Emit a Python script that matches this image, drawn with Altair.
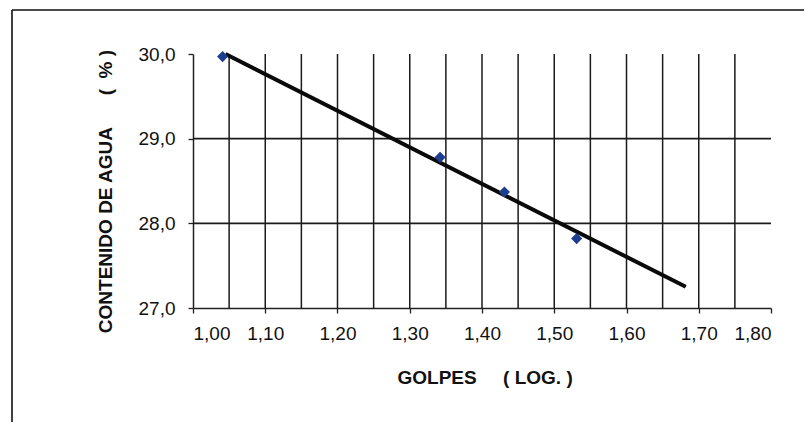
import altair as alt
import pandas as pd

# Data
golpes_log = [1.041, 1.342, 1.431, 1.531]
contenido = [29.97, 28.78, 28.37, 27.82]

trend_x = [1.045, 1.682]
trend_y = [30.0, 27.25]

x_ticks = [1.0, 1.1, 1.2, 1.3, 1.4, 1.5, 1.6, 1.7, 1.8]
y_ticks = [27.0, 28.0, 29.0, 30.0]
grid_x = [1.05, 1.10, 1.15, 1.20, 1.25, 1.30, 1.35, 1.40, 1.45, 1.50, 1.55, 1.60, 1.65, 1.70, 1.75]
grid_y = [28.0, 29.0]

FONT = "Liberation Sans"
NB = "\u00a0"

x_title = "GOLPES" + NB * 5 + "(" + NB + "LOG." + NB + ")"
y_title = "CONTENIDO DE AGUA" + NB * 6 + "(" + NB + NB + "%" + NB + ")"

pts = pd.DataFrame({"x": golpes_log, "y": contenido})
trend = pd.DataFrame({"x": trend_x, "y": trend_y})
gx = pd.DataFrame({"x": grid_x, "y": [30.0] * len(grid_x), "y2": [27.0] * len(grid_x)})
gy = pd.DataFrame({"y": grid_y, "x": [1.0] * len(grid_y), "x2": [1.8] * len(grid_y)})
one = pd.DataFrame({"a": [0]})

xscale = alt.Scale(domain=[1.0, 1.8], nice=False, zero=False)
yscale = alt.Scale(domain=[27.0, 30.0], nice=False, zero=False)

xaxis = alt.Axis(
    values=x_ticks,
    labelExpr="replace(format(datum.value, '.2f'), '.', ',')",
    title=x_title,
    titleFont=FONT, titleFontSize=19, titleFontWeight="bold", titleColor="#111",
    titleAlign="left", titleX=204, titleY=75, titleBaseline="alphabetic",
    labelFont=FONT, labelFontSize=19, labelColor="#111", labelPadding=11,
    tickSize=5, tickColor="#222", tickWidth=1.3,
    domainColor="#222", domainWidth=1.5, grid=False,
)
yaxis = alt.Axis(
    values=y_ticks,
    labelExpr="replace(format(datum.value, '.1f'), '.', ',')",
    title=y_title,
    titleFont=FONT, titleFontSize=19, titleFontWeight="bold", titleColor="#111",
    titleAngle=270, titleAlign="center", titleBaseline="alphabetic",
    titleX=-82, titleY=137,
    labelFont=FONT, labelFontSize=19, labelColor="#111", labelPadding=13,
    tickSize=5, tickColor="#222", tickWidth=1.3,
    domainColor="#222", domainWidth=1.5, grid=False,
)

vgrid = alt.Chart(gx).mark_rule(color="#1a1a1a", strokeWidth=1.5).encode(
    x=alt.X("x:Q", scale=xscale, axis=xaxis),
    y=alt.Y("y:Q", scale=yscale, axis=yaxis),
    y2="y2:Q",
)
hgrid = alt.Chart(gy).mark_rule(color="#1a1a1a", strokeWidth=1.7).encode(
    x=alt.X("x:Q", scale=xscale),
    x2="x2:Q",
    y=alt.Y("y:Q", scale=yscale),
)
line = alt.Chart(trend).mark_line(color="#0a0a0a", strokeWidth=4).encode(
    x=alt.X("x:Q", scale=xscale),
    y=alt.Y("y:Q", scale=yscale),
)
points = alt.Chart(pts).mark_point(
    shape="diamond", filled=True, color="#1f3d8f", size=125, opacity=1
).encode(
    x=alt.X("x:Q", scale=xscale),
    y=alt.Y("y:Q", scale=yscale),
)

frame_left = alt.Chart(one).mark_rule(color="#111", strokeWidth=1.6).encode(
    x=alt.value(-181), y=alt.value(-44), y2=alt.value(370)
)
frame_top = alt.Chart(one).mark_rule(color="#111", strokeWidth=1.6).encode(
    x=alt.value(-181), x2=alt.value(620), y=alt.value(-44)
)

chart = alt.layer(vgrid, hgrid, line, points, frame_left, frame_top).properties(
    width=578,
    height=254,
    autosize=alt.AutoSizeParams(type="none"),
    padding={"left": 185, "top": 46, "right": 33, "bottom": 114},
    background="white",
).configure_view(stroke=None)

chart.save("out.html", embed_options={"renderer": "svg", "actions": False})
